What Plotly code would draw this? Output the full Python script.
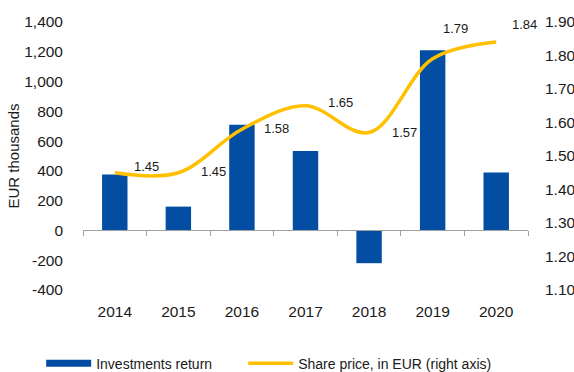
import plotly.graph_objects as go

# Annual figures
years = ["2014", "2015", "2016", "2017", "2018", "2019", "2020"]
investments_return = [375, 160, 710, 533, -220, 1210, 390]   # EUR thousands
share_price = [1.45, 1.45, 1.58, 1.65, 1.57, 1.79, 1.84]     # EUR

# Label nudges (px) for the share price values
label_dx = [32, 35, 35, 35, 35, 23, 28]
label_dy = [6, 1, 1, 3, 0, 30, 18]

left_ticks = [-400, -200, 0, 200, 400, 600, 800, 1000, 1200, 1400]
left_text = ["-400", "-200", "0", "200", "400", "600", "800", "1,000", "1,200", "1,400"]
right_ticks = [1.10, 1.20, 1.30, 1.40, 1.50, 1.60, 1.70, 1.80, 1.90]

BLUE = "#034EA2"
GOLD = "#FFC000"
TXT = "#1a1a1a"
AXIS = "#a0a0a0"
FONT = "Liberation Sans, Arial, sans-serif"

n = len(years)
idx = list(range(n))
boundaries = [i - 0.5 for i in range(n + 1)]

fig = go.Figure()

fig.add_trace(go.Bar(
    x=idx, y=investments_return, name="Investments return",
    marker=dict(color=BLUE, line=dict(width=0)), width=0.4,
    showlegend=False, xaxis="x", yaxis="y",
))
# legend entry drawn as a wide swatch
fig.add_trace(go.Scatter(
    x=[None], y=[None], mode="lines", name="Investments return",
    line=dict(color=BLUE, width=7), xaxis="x", yaxis="y", legend="legend",
))
fig.add_trace(go.Scatter(
    x=idx, y=share_price, mode="lines", name="Share price, in EUR (right axis)",
    line=dict(color=GOLD, width=3.5, shape="spline", smoothing=1.0),
    xaxis="x2", yaxis="y2", legend="legend2",
))

for i, p, dx, dy in zip(idx, share_price, label_dx, label_dy):
    fig.add_annotation(
        x=i, y=p, xref="x2", yref="y2", text=f"{p:.2f}", showarrow=False,
        xshift=dx, yshift=dy, font=dict(size=13, color=TXT, family=FONT),
    )

legend_common = dict(
    orientation="h", xanchor="left", y=-0.215, yanchor="top",
    font=dict(size=14, color=TXT), itemwidth=45, bgcolor="rgba(0,0,0,0)",
)

fig.update_layout(
    width=574, height=372,
    margin=dict(l=83, r=46, t=22, b=82, autoexpand=False),
    paper_bgcolor="white", plot_bgcolor="white",
    font=dict(family=FONT, size=15.5, color=TXT),
    showlegend=True,
    legend=dict(x=-0.094, **legend_common),
    legend2=dict(x=0.36, **legend_common),
    xaxis=dict(
        range=[-0.5, n - 0.5], tickvals=idx, ticktext=years,
        showline=False, ticks="", showgrid=False, zeroline=False,
        ticklabelstandoff=10,
    ),
    # axis line through zero with tick marks between the years
    xaxis2=dict(
        overlaying="x", anchor="free", position=400 / 1800, side="bottom",
        range=[-0.5, n - 0.5], tickvals=boundaries,
        showline=True, linecolor=AXIS, linewidth=1,
        ticks="outside", ticklen=5, tickwidth=1, tickcolor=AXIS,
        showticklabels=False, showgrid=False, zeroline=False,
    ),
    yaxis=dict(
        range=[-400, 1400], tickvals=left_ticks, ticktext=left_text,
        showgrid=False, showline=False, ticks="", zeroline=False,
        ticklabelstandoff=19,
        title=dict(text="EUR thousands", font=dict(size=15), standoff=0),
    ),
    yaxis2=dict(
        range=[1.10, 1.90], tickvals=right_ticks, tickformat=".2f",
        overlaying="y", side="right", anchor="x",
        showgrid=False, zeroline=False, showline=False, ticks="",
        ticklabelstandoff=16,
    ),
)

fig.write_html("out.html")
